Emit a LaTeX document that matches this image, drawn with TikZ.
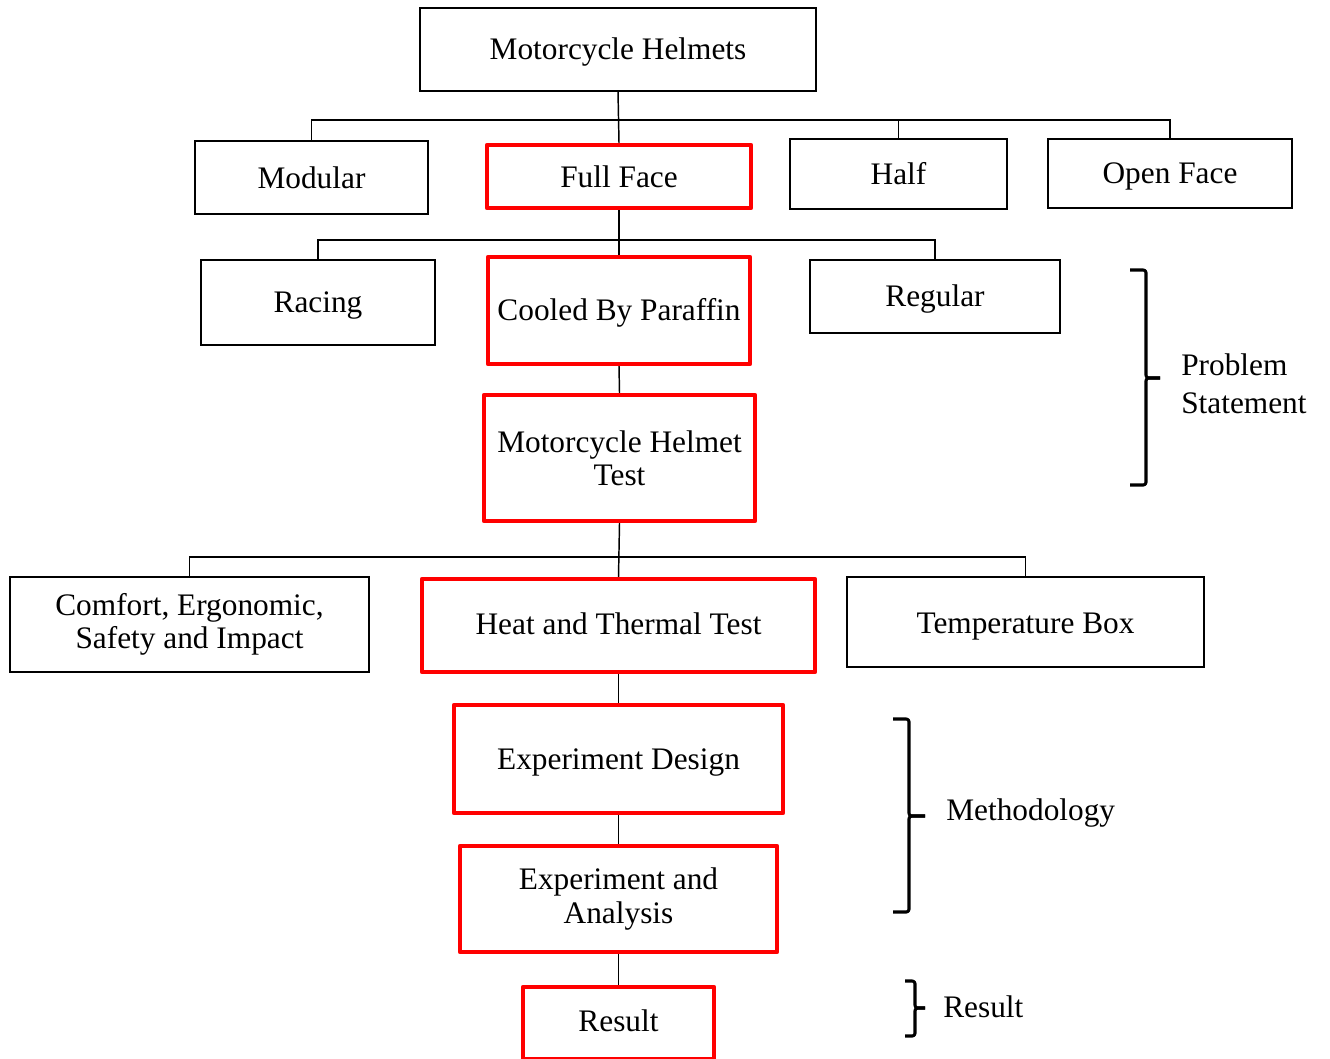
\documentclass[tikz,border=0pt]{standalone}
\usepackage{fontspec}
\setmainfont{Liberation Serif}
\newcommand\mydown[2]{\raisebox{-#1}[\height][\depth]{#2}}
\begin{document}
\begin{tikzpicture}[x=0.75pt,y=-0.75pt,
  every node/.style={font=\fontsize{23.5}{24.8}\selectfont},
  plainbox/.style={draw=black,line width=1.1pt,align=center,inner sep=0pt},
  redbox/.style={draw=red,line width=3.2pt,line join=round,align=center,inner sep=0pt},
  conn/.style={draw=black,line width=1.1pt},
  brace/.style={draw=black,line width=2.3pt,line join=round,rounded corners=2pt},
  lbl/.style={anchor=west,align=left,inner sep=0pt}]
\useasboundingbox (0,0) rectangle (1330,1058);
% boxes
\node[plainbox,minimum width=396*0.75pt,minimum height=83*0.75pt] (top) at (618,49.5) {\mydown{2.25pt}{Motorcycle Helmets}};
\node[plainbox,minimum width=233*0.75pt,minimum height=73*0.75pt] (modular) at (311.5,177.5) {Modular};
\node[redbox,minimum width=264*0.75pt,minimum height=63*0.75pt] (fullface) at (619,176.5) {Full Face};
\node[plainbox,minimum width=217*0.75pt,minimum height=70*0.75pt] (half) at (898.5,174) {Half};
\node[plainbox,minimum width=244*0.75pt,minimum height=69*0.75pt] (openface) at (1170,173.5) {\mydown{2.25pt}{Open Face}};
\node[plainbox,minimum width=234*0.75pt,minimum height=85*0.75pt] (racing) at (318,302.5) {\mydown{2.25pt}{Racing}};
\node[redbox,minimum width=262*0.75pt,minimum height=107*0.75pt] (cooled) at (619,310.5) {\mydown{1.5pt}{Cooled By Paraffin}};
\node[plainbox,minimum width=250*0.75pt,minimum height=73*0.75pt] (regular) at (935,296.5) {\mydown{1.5pt}{Regular}};
\node[redbox,minimum width=271*0.75pt,minimum height=126*0.75pt] (mht) at (619.5,458) {Motorcycle Helmet\\Test};
\node[plainbox,minimum width=359*0.75pt,minimum height=95*0.75pt] (comfort) at (189.5,624.5) {Comfort, Ergonomic,\\Safety and Impact};
\node[redbox,minimum width=393*0.75pt,minimum height=93*0.75pt] (heat) at (618.5,625.5) {\mydown{-1.5pt}{Heat and Thermal Test}};
\node[plainbox,minimum width=357*0.75pt,minimum height=90*0.75pt] (tempbox) at (1025.5,622) {\mydown{3.75pt}{Temperature Box}};
\node[redbox,minimum width=329*0.75pt,minimum height=108*0.75pt] (expdesign) at (618.5,759) {\mydown{2.25pt}{Experiment Design}};
\node[redbox,minimum width=317*0.75pt,minimum height=106*0.75pt] (expanalysis) at (618.5,899) {Experiment and\\Analysis};
\node[redbox,minimum width=191*0.75pt,minimum height=72*0.75pt] (result) at (618.5,1023) {\mydown{-1.5pt}{Result}};
% buses
\coordinate (bus1) at (618,120);
\coordinate (bus2) at (619,240);
\coordinate (bus3) at (619,557);
% connectors
\draw[conn] (top.south) -- (fullface.north);
\draw[conn] (modular.north) |- (bus1) -| (openface.north);
\draw[conn] (half.north) -- (half.north |- bus1);
\draw[conn] (fullface.south) -- (cooled.north);
\draw[conn] (racing.north) |- (bus2) -| (regular.north);
\draw[conn] (cooled.south) -- (mht.north);
\draw[conn] (mht.south) -- (heat.north);
\draw[conn] (comfort.north) |- (bus3) -| (tempbox.north);
\draw[conn] (heat.south) -- (expdesign.north);
\draw[conn] (expdesign.south) -- (expanalysis.north);
\draw[conn] (expanalysis.south) -- (result.north);
% braces
\draw[brace] (1130,270) -- (1146,270) -- (1146,378) -- (1160,378);
\draw[brace] (1160,378) -- (1146,378) -- (1146,485) -- (1130,485);
\draw[brace] (893,719) -- (909,719) -- (909,816) -- (925,816);
\draw[brace] (925,816) -- (909,816) -- (909,912) -- (893,912);
\draw[brace] (905,981) -- (915,981) -- (915,1008) -- (925,1008);
\draw[brace] (925,1008) -- (915,1008) -- (915,1036) -- (905,1036);
% labels
\node[lbl,font=\fontsize{23.5}{28.5}\selectfont] (ps) at (1181,384) {Problem\\Statement};
\node[lbl] (meth) at (946,813) {Methodology};
\node[lbl] (res) at (943,1007) {Result};
\end{tikzpicture}
\end{document}
